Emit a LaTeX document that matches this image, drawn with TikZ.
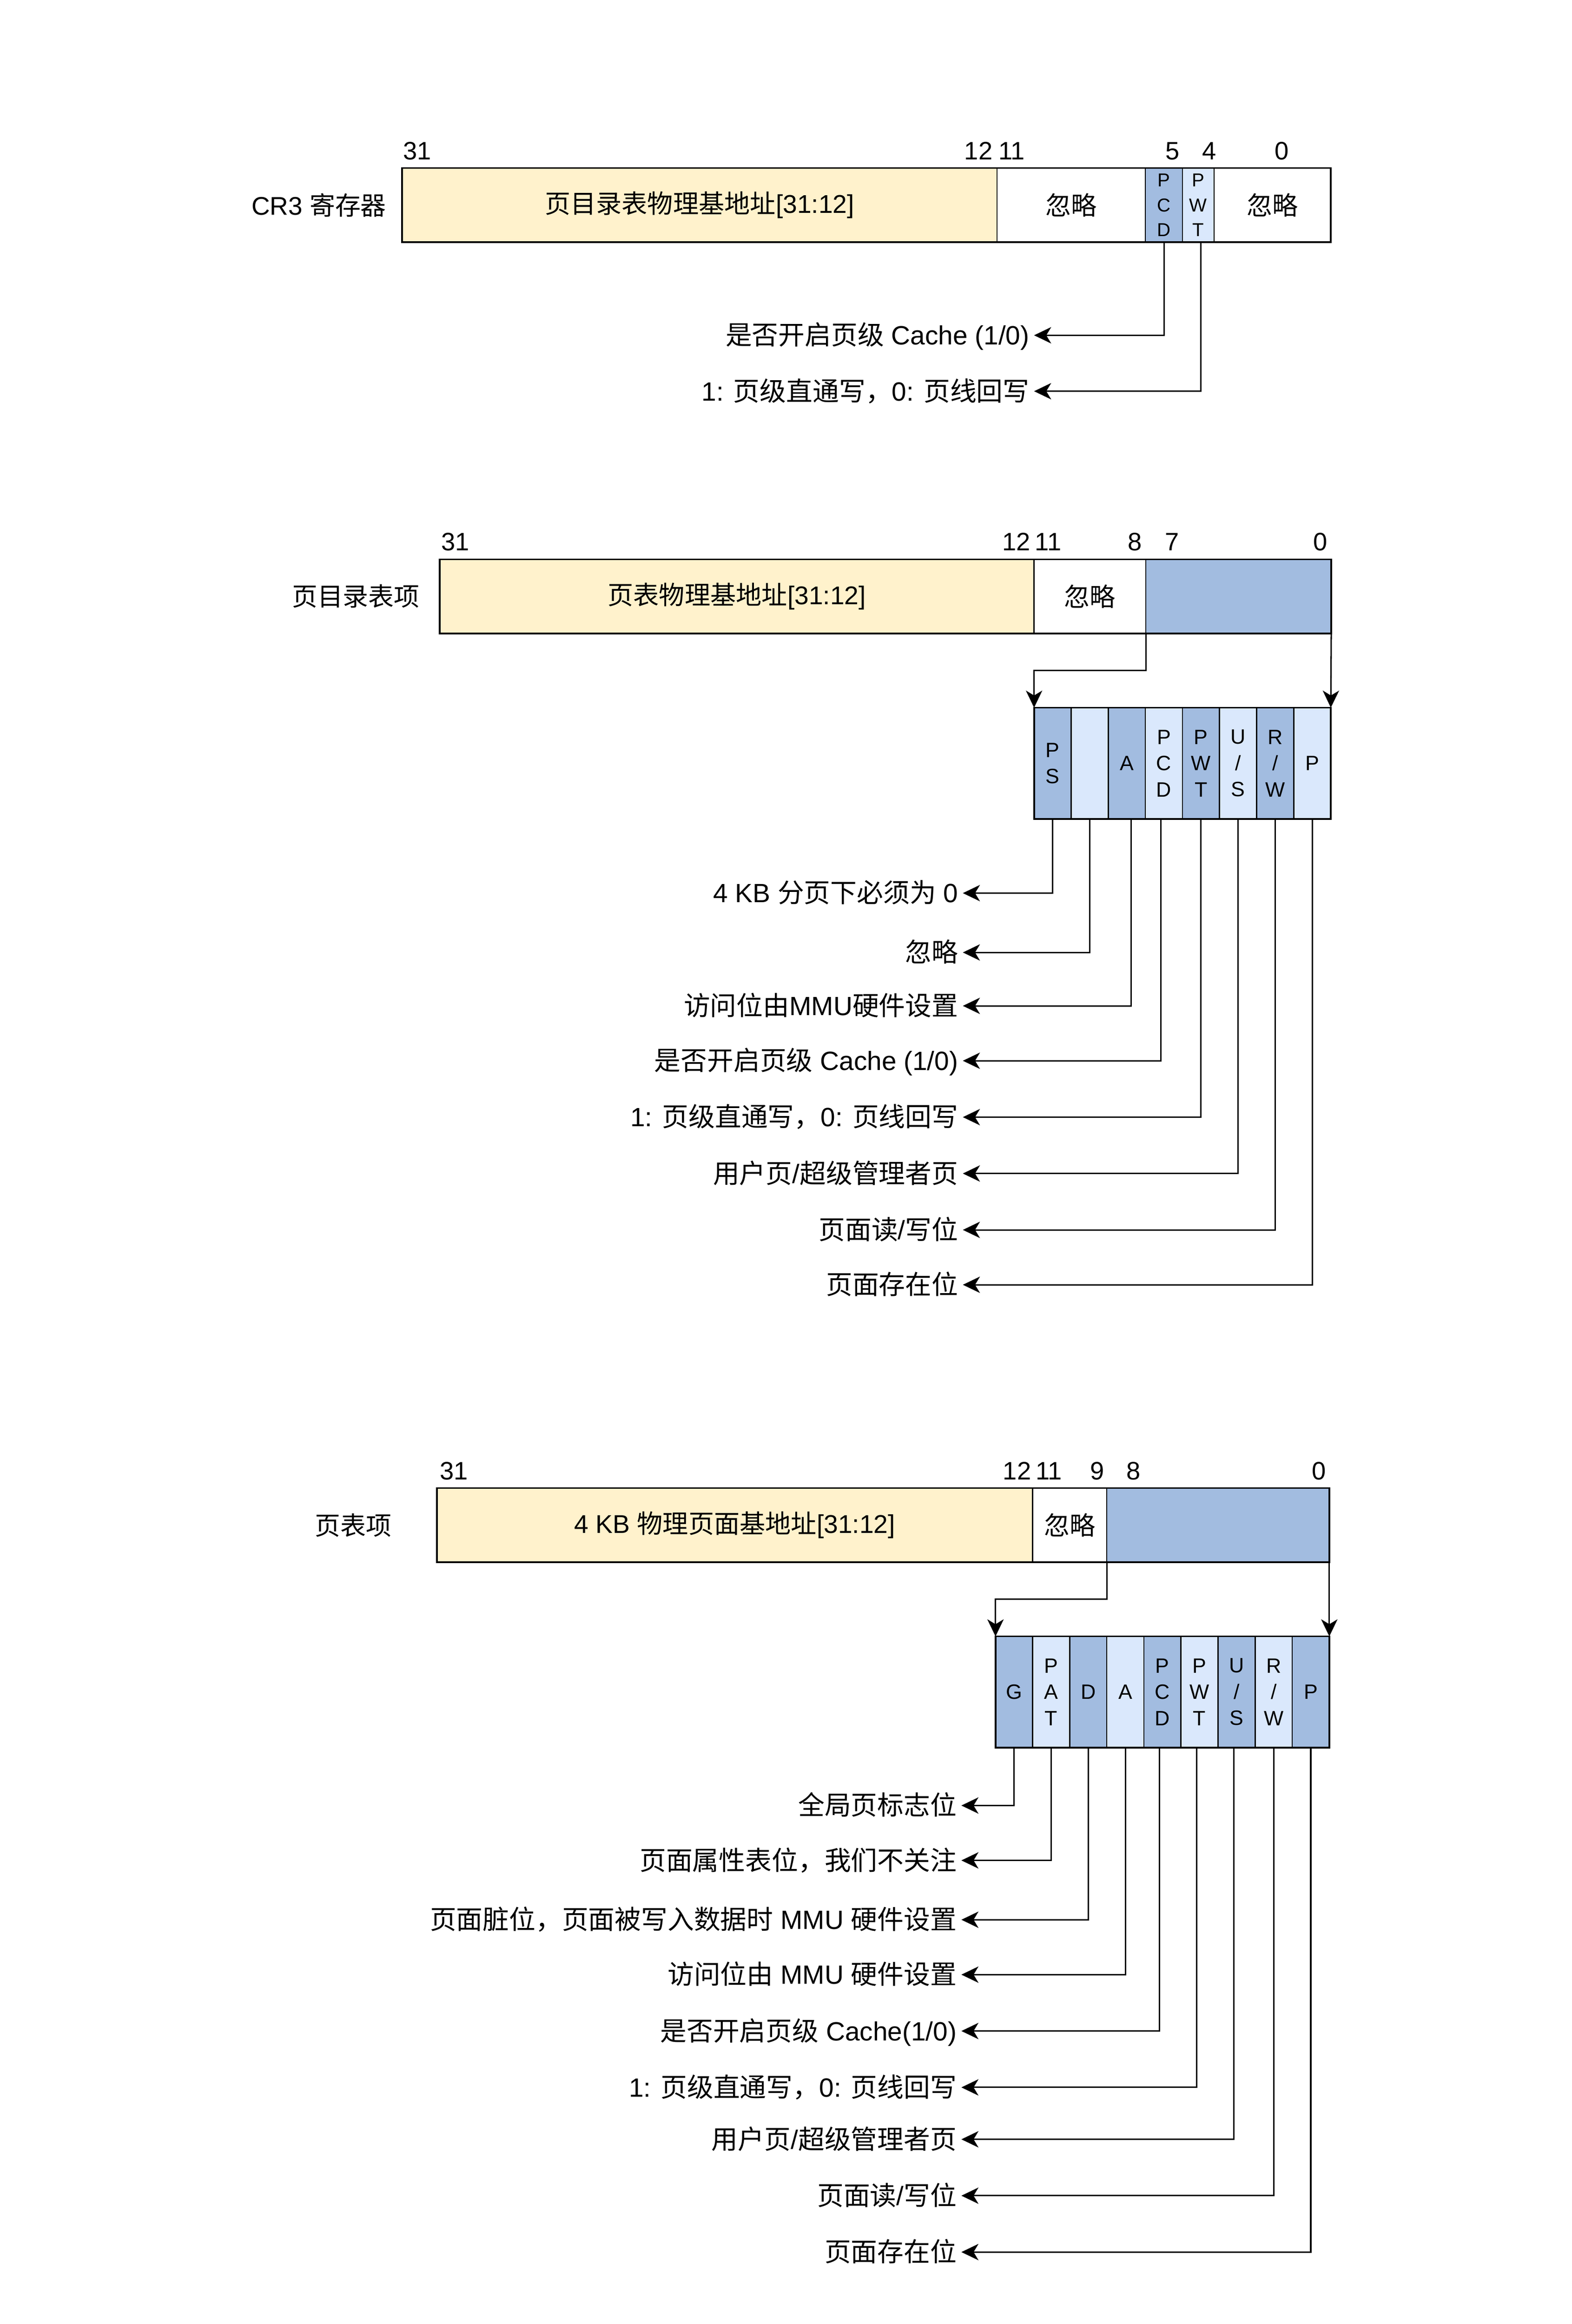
\documentclass[tikz,border=0pt]{standalone}
\usepackage{fontspec}
\setmainfont{Liberation Sans}
\newfontfamily\latinfont{Liberation Sans}
\newfontfamily\cjkfont{Noto Sans CJK SC}
% Han characters are set in the CJK font, everything else in Liberation Sans
\newXeTeXintercharclass\cjkclass
\newcount\cjkcode
\cjkcode="4E00
\loop
  \XeTeXcharclass\cjkcode=\cjkclass
  \advance\cjkcode by 1
\ifnum\cjkcode<"A000\relax\repeat
\XeTeXcharclass"FF0C=\cjkclass
\XeTeXinterchartoks 0 \cjkclass={\cjkfont}
\XeTeXinterchartoks 4095 \cjkclass={\cjkfont}
\XeTeXinterchartoks \cjkclass 0={\latinfont}
\XeTeXinterchartoks \cjkclass 4095={\latinfont}
\XeTeXinterchartokenstate=1
\usetikzlibrary{arrows.meta,positioning}
\definecolor{myyellow}{RGB}{255,242,204}
\definecolor{mydarkblue}{RGB}{162,188,224}
\definecolor{mylightblue}{RGB}{218,232,252}

\begin{document}
\begin{tikzpicture}[x=1pt,y=-1pt,
  cell/.style={draw,line width=0.8pt,outer sep=0pt,inner sep=0pt,minimum height=50pt,
    font=\fontsize{17.3}{20}\selectfont},
  smallbits/.style={align=center,font=\fontsize{12.6}{16.7}\selectfont},
  bit/.style={draw,line width=0.8pt,outer sep=0pt,inner sep=0pt,minimum width=25pt,
    minimum height=75pt,align=center,font=\fontsize{14}{17.7}\selectfont},
  darkbit/.style={fill=mydarkblue},
  lightbit/.style={fill=mylightblue},
  regframe/.style={line width=1.15pt},
  bitno/.style={anchor=base,inner sep=0pt,font=\fontsize{17}{20}\selectfont},
  reglbl/.style={inner sep=0pt,font=\fontsize{17.2}{20}\selectfont},
  desc/.style={anchor=east,inner xsep=3pt,inner ysep=0pt,text height=14.8pt,text depth=2pt,
    font=\fontsize{17.8}{20}\selectfont},
  conn/.style={line width=0.95pt,-{Stealth[length=11.5pt,width=11pt,inset=3.3pt]}}]

  \useasboundingbox (0,0) rectangle (1059.4,1566.5);

  % CR3 register
  \node[cell,fill=myyellow,minimum width=401pt,anchor=north west] (r1base) at (271,113.3) {页目录表物理基地址[31:12]};
  \node[cell,minimum width=100pt,right=0pt of r1base] (r1ign) {忽略};
  \node[cell,darkbit,smallbits,minimum width=25pt,right=0pt of r1ign] (r1pcd) {P\\C\\D};
  \node[cell,lightbit,smallbits,minimum width=21.3pt,right=0pt of r1pcd] (r1pwt) {P\\W\\T};
  \node[cell,minimum width=78.7pt,right=0pt of r1pwt] (r1ign2) {忽略};
  \draw[regframe] (r1base.north west) rectangle (r1ign2.south east);

  \node[reglbl,left=10.5pt of r1base] (r1name) {CR3 寄存器};

  \node[bitno] (r1n31) at (281.3,107.7) {31};
  \node[bitno] (r1n12) at (659.5,107.7) {12};
  \node[bitno] (r1n11) at (682,107.7) {11};
  \node[bitno] (r1n5) at (790.4,107.7) {5};
  \node[bitno] (r1n4) at (815.1,107.7) {4};
  \node[bitno] (r1n0) at (864,107.7) {0};

  % draw arrows for CR3
  \node[desc] (r1d1) at (697,226) {是否开启页级 Cache (1/0)};
  \node[desc] (r1d2) at (697,263.7) {1: 页级直通写，0: 页线回写};
  \draw[conn] (r1pcd.south) |- (r1d1.east);
  \draw[conn] ([xshift=1.8pt]r1pwt.south) |- (r1d2.east);

  % page directory entry
  \node[cell,fill=myyellow,minimum width=400.7pt,anchor=north west] (r2base) at (296.3,377) {页表物理基地址[31:12]};
  \node[cell,minimum width=75.3pt,right=0pt of r2base] (r2ign) {忽略};
  \node[cell,darkbit,minimum width=125pt,right=0pt of r2ign] (r2flag) {};
  \draw[regframe] (r2base.north west) rectangle (r2flag.south east);

  \node[reglbl,left=13.3pt of r2base] (r2name) {页目录表项};

  \node[bitno] (r2n31) at (307,371.2) {31};
  \node[bitno] (r2n12) at (685,371.2) {12};
  \node[bitno] (r2n11) at (706.5,371.2) {11};
  \node[bitno] (r2n8) at (765,371.2) {8};
  \node[bitno] (r2n7) at (790,371.2) {7};
  \node[bitno] (r2n0) at (890,371.2) {0};

  \node[bit,darkbit,anchor=north west] (p2ps) at (697,477) {P\\S};
  \node[bit,lightbit,right=0pt of p2ps] (p2ign) {};
  \node[bit,darkbit,right=0pt of p2ign] (p2a) {A};
  \node[bit,lightbit,right=0pt of p2a] (p2pcd) {P\\C\\D};
  \node[bit,darkbit,right=0pt of p2pcd] (p2pwt) {P\\W\\T};
  \node[bit,lightbit,right=0pt of p2pwt] (p2us) {U\\/\\S};
  \node[bit,darkbit,right=0pt of p2us] (p2rw) {R\\/\\W};
  \node[bit,lightbit,right=0pt of p2rw] (p2p) {P};
  \draw[regframe] (p2ps.north west) rectangle (p2p.south east);

  \draw[conn] (r2flag.south west) -- ++(0,25) -| (p2ps.north west);
  \draw[conn] (r2flag.south east) -- (p2p.north east);

  % draw arrows for page directory entry
  \node[desc] (p2d1) at (649,602) {4 KB 分页下必须为 0};
  \node[desc] (p2d2) at (649,642) {忽略};
  \node[desc] (p2d3) at (649,678) {访问位由MMU硬件设置};
  \node[desc] (p2d4) at (649,715) {是否开启页级 Cache (1/0)};
  \node[desc] (p2d5) at (649,753) {1: 页级直通写，0: 页线回写};
  \node[desc] (p2d6) at (649,791) {用户页/超级管理者页};
  \node[desc] (p2d7) at (649,829) {页面读/写位};
  \node[desc] (p2d8) at (649,866) {页面存在位};
  \draw[conn] (p2ps.south) |- (p2d1.east);
  \draw[conn] (p2ign.south) |- (p2d2.east);
  \draw[conn] ([xshift=3pt]p2a.south) |- (p2d3.east);
  \draw[conn] ([xshift=-2pt]p2pcd.south) |- (p2d4.east);
  \draw[conn] (p2pwt.south) |- (p2d5.east);
  \draw[conn] (p2us.south) |- (p2d6.east);
  \draw[conn] (p2rw.south) |- (p2d7.east);
  \draw[conn] (p2p.south) |- (p2d8.east);

  % page table entry
  \node[cell,fill=myyellow,minimum width=401.5pt,anchor=north west] (r3base) at (294.5,1003) {4 KB 物理页面基地址[31:12]};
  \node[cell,minimum width=50pt,right=0pt of r3base] (r3ign) {忽略};
  \node[cell,darkbit,minimum width=150pt,right=0pt of r3ign] (r3flag) {};
  \draw[regframe] (r3base.north west) rectangle (r3flag.south east);

  \node[reglbl,left=30.3pt of r3base] (r3name) {页表项};

  \node[bitno] (r3n31) at (306,997.3) {31};
  \node[bitno] (r3n12) at (685.5,997.3) {12};
  \node[bitno] (r3n11) at (707,997.3) {11};
  \node[bitno] (r3n9) at (739.6,997.3) {9};
  \node[bitno] (r3n8) at (764,997.3) {8};
  \node[bitno] (r3n0) at (889,997.3) {0};

  \node[bit,darkbit,anchor=north west] (p3g) at (671,1103) {G};
  \node[bit,lightbit,right=0pt of p3g] (p3pat) {P\\A\\T};
  \node[bit,darkbit,right=0pt of p3pat] (p3d) {D};
  \node[bit,lightbit,right=0pt of p3d] (p3a) {A};
  \node[bit,darkbit,right=0pt of p3a] (p3pcd) {P\\C\\D};
  \node[bit,lightbit,right=0pt of p3pcd] (p3pwt) {P\\W\\T};
  \node[bit,darkbit,right=0pt of p3pwt] (p3us) {U\\/\\S};
  \node[bit,lightbit,right=0pt of p3us] (p3rw) {R\\/\\W};
  \node[bit,darkbit,right=0pt of p3rw] (p3p) {P};
  \draw[regframe] (p3g.north west) rectangle (p3p.south east);

  \draw[conn] (r3flag.south west) -- ++(0,25) -| (p3g.north west);
  \draw[conn] (r3flag.south east) -- (p3p.north east);

  % draw arrows for page table entry
  \node[desc] (p3d1) at (648,1217) {全局页标志位};
  \node[desc] (p3d2) at (648,1254) {页面属性表位，我们不关注};
  \node[desc] (p3d3) at (648,1294) {页面脏位，页面被写入数据时 MMU 硬件设置};
  \node[desc] (p3d4) at (648,1331) {访问位由 MMU 硬件设置};
  \node[desc] (p3d5) at (648,1369) {是否开启页级 Cache(1/0)};
  \node[desc] (p3d6) at (648,1407) {1: 页级直通写，0: 页线回写};
  \node[desc] (p3d7) at (648,1442) {用户页/超级管理者页};
  \node[desc] (p3d8) at (648,1480) {页面读/写位};
  \node[desc] (p3d9) at (648,1518) {页面存在位};
  \draw[conn] (p3g.south) |- (p3d1.east);
  \draw[conn] (p3pat.south) |- (p3d2.east);
  \draw[conn] (p3d.south) |- (p3d3.east);
  \draw[conn] (p3a.south) |- (p3d4.east);
  \draw[conn] ([xshift=-2pt]p3pcd.south) |- (p3d5.east);
  \draw[conn] ([xshift=-2pt]p3pwt.south) |- (p3d6.east);
  \draw[conn] ([xshift=-2pt]p3us.south) |- (p3d7.east);
  \draw[conn] (p3rw.south) |- (p3d8.east);
  \draw[conn] (p3p.south) |- (p3d9.east);

\end{tikzpicture}
\end{document}
